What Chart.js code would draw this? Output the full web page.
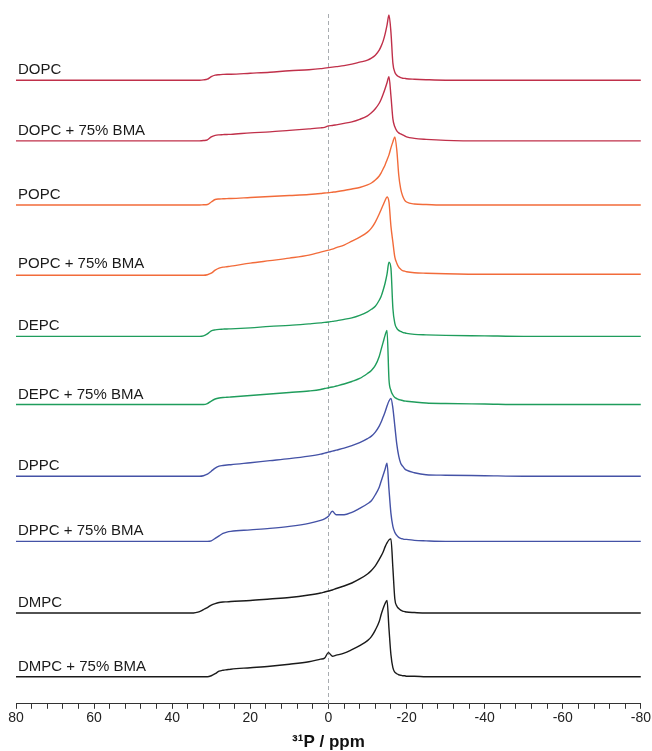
<!DOCTYPE html>
<html>
<head>
<meta charset="utf-8">
<title>31P NMR spectra</title>
<script src="https://cdn.jsdelivr.net/npm/chart.js@4.4.1/dist/chart.umd.min.js"></script>
<style>
    html, body { margin: 0; padding: 0; background: #fff; }
    #wrap { width: 652px; height: 751px; }
</style>
</head>
<body>
<div id="wrap"><canvas id="chart" width="652" height="751"></canvas></div>
<script>
// chemical shift grid (ppm), shared by every spectrum
const ppm = [80, 70, 60, 50, 40, 35, 34, 33, 32, 31, 30, 29, 28, 27, 26, 25, 20, 15, 10, 5, 2, 1, 0,
    -1, -2, -4, -6, -8, -10, -11, -12, -13, -13.5, -14, -14.5, -15, -15.5, -16, -16.5, -17, -17.5,
    -18, -18.5, -19, -19.5, -20, -22, -25, -30, -40, -50, -60, -70, -80];

const names = ['DOPC', 'DOPC + 75% BMA', 'POPC', 'POPC + 75% BMA', 'DEPC', 'DEPC + 75% BMA',
    'DPPC', 'DPPC + 75% BMA', 'DMPC', 'DMPC + 75% BMA'];

// vertical stacking offset of each spectrum
const offsets = [622, 561.5, 497.5, 428.5, 366.5, 298.5, 227, 162, 90.5, 27];

const xTicks = [80, 60, 40, 20, 0, -20, -40, -60, -80];

// intensities
const dopc = [0, 0, 0, 0, 0, 0, 0, 0, 0.3, 1, 3.5, 5, 5.5, 5.8, 6, 6, 7, 8, 9.5, 10.5, 11.5, 12, 12.5,
    13, 13.5, 14.5, 16, 18, 20, 22, 25, 30, 34, 39, 46, 55, 65, 48, 17, 8, 5, 3.5, 2.5, 2, 1.8, 1.5,
    1, 0.5, 0, 0, 0, 0, 0, 0];
const dopcBma = [0, 0, 0, 0, 0, 0, 0, 0, 0.3, 1, 4, 5.5, 6, 6.2, 6.4, 6.5, 8, 9, 10.5, 12, 13, 13.5, 15,
    15.3, 16, 17.5, 19, 21.5, 25, 28, 32, 37.5, 41.5, 46.5, 52, 58, 64, 45, 22, 14, 10, 8, 7, 6, 5, 4,
    2.5, 1.5, 0.5, 0, 0, 0, 0, 0];
const popc = [0, 0, 0, 0, 0, 0, 0, 0, 0.2, 0.5, 3, 5.5, 6, 6.2, 6.4, 6.5, 7.5, 8.5, 9.5, 10.5, 11.5, 12, 12.3,
    12.8, 13.3, 14.5, 16, 17.5, 20, 22, 25, 29, 32, 36, 40, 45, 50, 57, 63, 68, 55, 30, 16, 9, 5, 3,
    1, 0.5, 0, 0, 0, 0, 0, 0];
const popcBma = [-1, -1, -1, -1, -1, -1, -1, -1, -1, -0.5, 1, 4, 6, 7, 7.5, 8, 11, 13.5, 16, 19, 22, 23, 24,
    25, 26.5, 29, 33, 37, 42, 46, 52, 60, 64.5, 69, 73.5, 77, 72, 48, 32, 17, 11, 7, 5, 3.5, 3, 2.5,
    1.5, 1, 0.5, 0, 0, 0, 0, 0];
const depc = [0, 0, 0, 0, 0, 0, 0, 0, 0.5, 2.5, 5.5, 6.5, 7, 7.2, 7.4, 7.5, 8.5, 10, 11, 12.5, 13.5, 14, 14.3,
    15, 15.5, 17, 18.5, 21, 24.5, 27, 30, 36, 40, 46, 53, 62, 74, 68, 28, 13, 8, 6, 5, 4, 3.5, 3,
    2, 1.5, 1, 0.5, 0, 0, 0, 0];
const depcBma = [0, 0, 0, 0, 0, 0, 0, 0, 0, 1, 3.5, 5.5, 6.5, 7, 7.2, 7.5, 9, 10.5, 12, 13.5, 15, 16, 16.7,
    17.5, 18.5, 20.5, 23, 26, 31, 34, 39, 48, 55, 62, 69, 74, 25, 14, 9.5, 7, 6, 5, 4.5, 4, 3.5, 3.3,
    2.5, 1.5, 1, 0.5, 0, 0, 0, 0];
const dppc = [0, 0, 0, 0, 0, 0, 0, 0, 0.5, 2, 5, 8, 10, 10.7, 11.2, 11.5, 13.5, 15.5, 17.5, 20, 22, 23, 24,
    25, 26, 28, 30.5, 33.5, 37.5, 40, 44, 50, 54, 59, 64, 70, 75, 77.5, 68, 50, 32, 20, 13, 10, 7.5, 6,
    3.5, 1.5, 1, 0.5, 0, 0, 0, 0];
const dppcBma = [0, 0, 0, 0, 0, 0, 0, 0, 0, 0, 0.5, 3, 5.5, 8, 9.3, 10, 11.5, 13, 15, 18, 21, 22.5, 25,
    30, 26.5, 26.5, 29, 33, 37.5, 40.5, 46.5, 54, 60, 66, 72, 78, 52, 28, 15, 9, 6, 4, 3, 2.5, 2, 2,
    1, 0.5, 0, 0, 0, 0, 0, 0];
const dmpc = [0, 0, 0, 0, 0, 0, 0.5, 1.5, 3.5, 5.5, 8, 9.5, 10.5, 11, 11.2, 11.5, 12.5, 14, 15.5, 18, 20, 21, 22,
    23, 24.5, 27, 30, 34, 39, 42.5, 47, 53.5, 57, 61, 66, 70, 73, 74, 45, 14, 7, 4.5, 3, 2, 1.5, 1,
    0.5, 0, 0, 0, 0, 0, 0, 0];
const dmpcBma = [0, 0, 0, 0, 0, 0, 0, 0, 0, 0, 1, 3, 5.5, 6.5, 7, 7.5, 9, 10.5, 12.5, 15, 17.5, 18.5, 24,
    20.5, 21.5, 23.5, 27, 31, 36, 40, 46.5, 55, 62, 68, 73, 76, 48, 22, 9, 4.5, 3, 2, 1.5, 1, 1, 0.5,
    0.5, 0, 0, 0, 0, 0, 0, 0];

const spectra = [dopc, dopcBma, popc, popcBma, depc, depcBma, dppc, dppcBma, dmpc, dmpcBma];
const colors = ['#c0304a', '#c0304a', '#f26b3a', '#f26b3a', '#1f9d5c', '#1f9d5c',
    '#4452a6', '#4452a6', '#1a1a1a', '#1a1a1a'];

const font = "'Liberation Sans', Arial, sans-serif";

const datasets = spectra.map((values, i) => ({
    label: names[i],
    data: values.map((v, j) => ({ x: ppm[j], y: offsets[i] + v })),
    borderColor: colors[i],
    borderWidth: 1.4,
    pointRadius: 0,
    fill: false,
    cubicInterpolationMode: 'monotone'
}));

// dashed line at 0 ppm
const zeroLine = {
    id: 'zeroLine',
    beforeDatasetsDraw(chart) {
        const { ctx, chartArea, scales } = chart;
        const x = Math.round(scales.x.getPixelForValue(0)) + 0.5;
        ctx.save();
        ctx.strokeStyle = '#a8acb0';
        ctx.lineWidth = 1;
        ctx.setLineDash([4, 3]);
        ctx.beginPath();
        ctx.moveTo(x, chartArea.top + 14);
        ctx.lineTo(x, chartArea.bottom);
        ctx.stroke();
        ctx.restore();
    }
};

// sample names above the left end of each trace
const traceLabels = {
    id: 'traceLabels',
    afterDatasetsDraw(chart) {
        const { ctx, chartArea, scales } = chart;
        ctx.save();
        ctx.fillStyle = '#1a1a1a';
        ctx.font = '15px ' + font;
        ctx.textBaseline = 'alphabetic';
        names.forEach((name, i) => {
            ctx.fillText(name, chartArea.left + 2, scales.y.getPixelForValue(offsets[i] + 6));
        });
        ctx.restore();
    }
};

const context = document.getElementById('chart').getContext('2d');
const spectraChart = new Chart(context, {
    type: 'line',
    data: { datasets },
    options: {
        responsive: false,
        animation: false,
        devicePixelRatio: 1,
        layout: { padding: { left: 16, right: 11, top: 0, bottom: -2 } },
        plugins: {
            legend: { display: false },
            tooltip: { enabled: false }
        },
        scales: {
            x: {
                type: 'linear',
                reverse: true,
                min: -80,
                max: 80,
                grid: {
                    drawOnChartArea: false,
                    drawTicks: true,
                    tickLength: 5,
                    color: '#333'
                },
                border: { display: true, color: '#333', width: 1 },
                ticks: {
                    stepSize: 4,
                    autoSkip: false,
                    maxRotation: 0,
                    padding: 1,
                    color: '#222',
                    font: { family: font, size: 14 },
                    callback: v => xTicks.includes(v) ? String(v) : ''
                },
                title: {
                    display: true,
                    text: '³¹P / ppm',
                    color: '#111',
                    font: { family: font, size: 17, weight: 'bold' },
                    padding: { top: 5, bottom: 0 }
                }
            },
            y: {
                display: false,
                min: 0,
                max: 702
            }
        }
    },
    plugins: [zeroLine, traceLabels]
});
</script>
</body>
</html>
